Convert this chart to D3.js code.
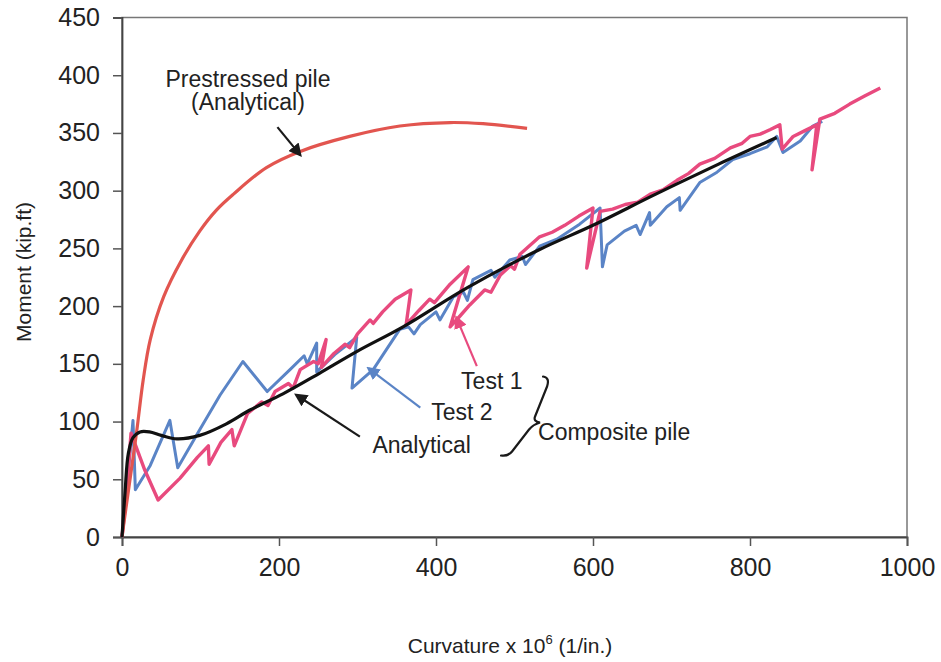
<!DOCTYPE html>
<html>
<head>
<meta charset="utf-8">
<script src="https://cdn.jsdelivr.net/npm/d3@7"></script>
<style>
  html, body { margin: 0; padding: 0; background: #ffffff; }
  svg { display: block; font-family: "Liberation Sans", Arial, sans-serif; }
</style>
</head>
<body>
<svg id="chart" width="941" height="662"></svg>
<script>
// ---------- DATA (curvature x1e6 [1/in.], moment [kip.ft]) ----------
const xTicks = [0, 200, 400, 600, 800, 1000];
const yTicks = [0, 50, 100, 150, 200, 250, 300, 350, 400, 450];

const prestressedCurv   = [0, 4, 10, 19, 27, 36, 53, 76, 99, 120, 142, 184, 227, 290, 354, 418, 460, 516];
const prestressedMoment = [0, 20, 49, 93, 136, 171, 208, 240, 265, 283, 297, 320, 334, 347, 356, 359, 358, 354];

const analyticalCurv   = [0, 4, 8, 14, 23, 35, 50, 70, 99, 133, 163, 205, 252, 300, 358, 440, 532, 600, 680, 760, 834];
const analyticalMoment = [0, 40, 72, 86, 91, 91, 88, 85, 88, 98, 110, 124, 142, 161, 182, 216, 249, 270, 297, 323, 346];

const test1Curv = [0, 5, 11.5, 29, 46, 74, 96, 110, 111, 126, 140, 143, 160, 178, 186, 195, 212, 218, 227, 244, 250, 260, 254, 270, 284, 290, 300, 316, 320, 332, 348, 368, 362, 378, 392, 398, 418, 441, 418, 430, 443, 462, 470, 482, 495, 500, 507, 532, 548, 564, 582, 600, 592, 609, 625, 641, 657, 673, 690, 707, 722, 736, 755, 775, 790, 800, 813, 826, 838, 841, 855, 870, 885, 879, 889, 908, 927, 946, 966];
const test1Moment = [0, 32, 90, 58, 32, 51, 69, 79, 63, 82, 93, 79, 107, 117, 114, 126, 133, 129, 145, 152, 150, 171, 147, 159, 167, 164, 176, 188, 185, 195, 206, 214, 184, 196, 206, 203, 219, 234, 182, 191, 201, 214, 212, 227, 235, 232, 245, 260, 264, 270, 278, 285, 233, 282, 284, 288, 290, 297, 301, 309, 315, 323, 328, 337, 341, 347, 349, 353, 357, 336, 347, 352, 357, 318, 362, 367, 375, 382, 389];

const test2Curv = [0, 6, 14, 17, 36, 61, 71, 99, 125, 154, 185, 214, 232, 236, 248, 248, 271, 299, 293, 320, 354, 365, 372, 380, 400, 405, 422, 435, 440, 447, 470, 475, 494, 510, 514, 532, 554, 583, 609, 612, 618, 640, 655, 660, 672, 673, 694, 710, 711, 736, 758, 778, 800, 822, 834, 842, 864, 880, 892];
const test2Moment = [0, 41, 101, 41, 62, 101, 60, 93, 123, 152, 126, 145, 157, 150, 168, 143, 158, 173, 129, 145, 180, 182, 176, 184, 195, 188, 208, 212, 205, 223, 231, 225, 240, 243, 236, 252, 258, 271, 285, 234, 253, 265, 270, 262, 281, 270, 286, 294, 283, 307, 316, 327, 332, 338, 347, 333, 343, 356, 360];

// annotation texts
const labelTexts = ["Prestressed pile", "(Analytical)", "Analytical", "Test 2", "Test 1", "Composite pile"];

// ---------- LAYOUT ----------
const svg = d3.select("#chart");
const x = d3.scaleLinear().domain([0, 1000]).range([122, 907]);
const y = d3.scaleLinear().domain([0, 450]).range([537, 17.5]);

const pts = (xs, ys) => xs.map((v, i) => [v, ys[i]]);
const lineLin = d3.line().x(d => x(d[0])).y(d => y(d[1]));
const lineSmooth = d3.line().x(d => x(d[0])).y(d => y(d[1])).curve(d3.curveCatmullRom.alpha(0.5));

// frame
svg.append("rect")
  .attr("x", x(0)).attr("y", y(450))
  .attr("width", x(1000) - x(0)).attr("height", y(0) - y(450))
  .attr("fill", "none").attr("stroke", "#777").attr("stroke-width", 1.5);

// axes
const yAxis = d3.axisLeft(y).tickValues(yTicks).tickSize(9).tickPadding(13).tickFormat(d3.format("d"));
const xAxis = d3.axisBottom(x).tickValues(xTicks).tickSize(9).tickPadding(12).tickFormat(d3.format("d"));

const gy = svg.append("g").attr("transform", `translate(${x(0)},0)`).call(yAxis);
const gx = svg.append("g").attr("transform", `translate(0,${y(0)})`).call(xAxis);
[gx, gy].forEach(g => {
  g.select(".domain").attr("stroke", "#444").attr("stroke-width", 1.8);
  g.selectAll(".tick line").attr("stroke", "#555").attr("stroke-width", 1.5);
  g.selectAll(".tick text").attr("font-size", 25).attr("fill", "#222")
    .attr("font-family", "'Liberation Sans', Arial, sans-serif");
});

// axis titles
svg.append("text")
  .attr("transform", `translate(31,272) rotate(-90)`)
  .attr("text-anchor", "middle").attr("font-size", 21).attr("fill", "#222")
  .text("Moment (kip.ft)");

const xt = svg.append("text")
  .attr("x", 510).attr("y", 653).attr("text-anchor", "middle")
  .attr("font-size", 21).attr("fill", "#222");
xt.append("tspan").text("Curvature x 10");
xt.append("tspan").attr("dy", -9).attr("font-size", 13).text("6");
xt.append("tspan").attr("dy", 9).text(" (1/in.)");

// ---------- CURVES ----------
const cPrestressed = "#e2554f", cTest1 = "#e84a7e", cTest2 = "#5a84c6", cAnalytical = "#111111";

svg.append("path").datum(pts(test2Curv, test2Moment))
  .attr("d", lineLin).attr("fill", "none").attr("stroke", cTest2)
  .attr("stroke-width", 3).attr("stroke-linejoin", "round");
svg.append("path").datum(pts(test1Curv, test1Moment))
  .attr("d", lineLin).attr("fill", "none").attr("stroke", cTest1)
  .attr("stroke-width", 3.4).attr("stroke-linejoin", "round");
svg.append("path").datum(pts(prestressedCurv, prestressedMoment))
  .attr("d", lineSmooth).attr("fill", "none").attr("stroke", cPrestressed)
  .attr("stroke-width", 3.2);
svg.append("path").datum(pts(analyticalCurv, analyticalMoment))
  .attr("d", lineSmooth).attr("fill", "none").attr("stroke", cAnalytical)
  .attr("stroke-width", 3.2);

// ---------- ANNOTATIONS ----------
const defs = svg.append("defs");
function marker(id, color) {
  defs.append("marker").attr("id", id)
    .attr("viewBox", "0 0 10 10").attr("refX", 8).attr("refY", 5)
    .attr("markerWidth", 6).attr("markerHeight", 6).attr("orient", "auto")
    .append("path").attr("d", "M0,0 L10,5 L0,10 z").attr("fill", color);
}
marker("ahBlack", "#1a1a1a");
marker("ahPink", cTest1);
marker("ahBlue", cTest2);

const arrows = [
  { from: [198, 355], to: [227, 331], color: "#1a1a1a", m: "ahBlack" },
  { from: [303, 87],  to: [222, 123], color: "#1a1a1a", m: "ahBlack" },
  { from: [380, 112], to: [314, 146], color: cTest2,    m: "ahBlue" },
  { from: [452, 148], to: [426, 190], color: cTest1,    m: "ahPink" }
];
arrows.forEach(a => {
  svg.append("line")
    .attr("x1", x(a.from[0])).attr("y1", y(a.from[1]))
    .attr("x2", x(a.to[0])).attr("y2", y(a.to[1]))
    .attr("stroke", a.color).attr("stroke-width", 2.2)
    .attr("marker-end", `url(#${a.m})`);
});

const labels = [
  { t: labelTexts[0], at: [160.5, 390],  anchor: "middle" },
  { t: labelTexts[1], at: [160.5, 369.5], anchor: "middle" },
  { t: labelTexts[2], at: [319, 73],     anchor: "start" },
  { t: labelTexts[3], at: [394, 101],    anchor: "start" },
  { t: labelTexts[4], at: [432, 128],    anchor: "start" },
  { t: labelTexts[5], at: [530, 84],     anchor: "start" }
];
labels.forEach(l => {
  svg.append("text")
    .attr("x", x(l.at[0])).attr("y", y(l.at[1]))
    .attr("text-anchor", l.anchor).attr("font-size", 23).attr("fill", "#222")
    .text(l.t);
});

// curly brace grouping Test 1 / Test 2 / Analytical
const bx = x(530), by = y(139);
const brace = `M${bx+5},${by} Q${bx+12},${by+1} ${bx+9},${by+10} L${bx-3},${by+40} Q${bx-5},${by+45} ${bx+2},${by+46} Q${bx-5},${by+48} ${bx-9},${by+53} L${bx-26},${by+75} Q${bx-30},${by+80} ${bx-37},${by+79}`;
svg.append("path").attr("d", brace).attr("fill", "none")
  .attr("stroke", "#1a1a1a").attr("stroke-width", 2.2).attr("stroke-linecap", "round");
</script>
</body>
</html>
